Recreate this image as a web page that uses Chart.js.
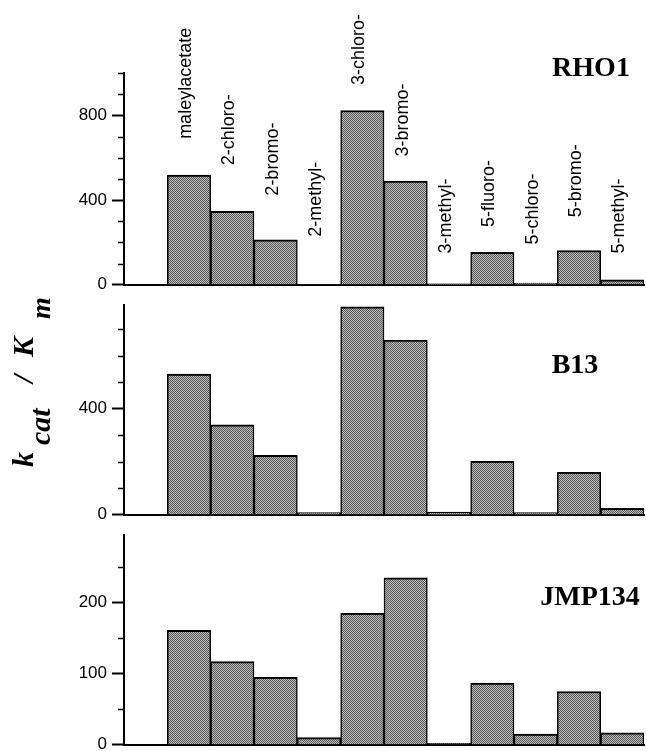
<!DOCTYPE html>
<html><head><meta charset="utf-8">
<script src="https://cdn.jsdelivr.net/npm/chart.js@4.4.0/dist/chart.umd.min.js"></script>
<style>
html,body{margin:0;padding:0;background:#fff;overflow:hidden;width:646px;height:751px;}
#wrap{position:relative;width:646px;height:751px;overflow:hidden;}
canvas{position:absolute;left:0;}
</style></head><body>
<div id="wrap">
<canvas id="c1" width="646" height="300" style="top:0px"></canvas>
<canvas id="c2" width="646" height="240" style="top:290px"></canvas>
<canvas id="c3" width="646" height="240" style="top:520px"></canvas>
</div>
<script>
// ---- data ----
const categories = ['', 'maleylacetate', '2-chloro-', '2-bromo-', '2-methyl-', '3-chloro-', '3-bromo-', '3-methyl-', '5-fluoro-', '5-chloro-', '5-bromo-', '5-methyl-'];
const rho1   = [null, 518, 347, 212, 2, 823, 490, 5, 153, 8, 162, 24];
const b13    = [null, 530, 339, 224, 8, 784, 659, 10, 202, 8, 160, 24];
const jmp134 = [null, 161, 117, 95, 10, 185, 235, 2, 87, 15, 75, 17];
const panelNames = ['RHO1', 'B13', 'JMP134'];
const yMax = [1000, 790, 295];
const majorTicksRho1 = [0, 400, 800];
const majorTicksB13 = [0, 400];
const majorTicksJmp134 = [0, 100, 200];
const minorStep = [100, 100, 50];
// heights (top-panel units) where the rotated category labels start
const labelAnchors = [null, 689, 564, 421, 227, 943, 606, 148, 273, 190, 319, 148];

const majorTicks = [majorTicksRho1, majorTicksB13, majorTicksJmp134];

// ---- styles ----
function makePattern() {
  const p = document.createElement('canvas');
  p.width = 2; p.height = 2;
  const g = p.getContext('2d');
  g.fillStyle = '#bdbdbd'; g.fillRect(0, 0, 2, 2);
  g.fillStyle = '#585858'; g.fillRect(0, 0, 1, 1); g.fillRect(1, 1, 1, 1);
  return g.createPattern(p, 'repeat');
}
const barFill = makePattern();

const minorTicksPlugin = {
  id: 'minorTicks',
  afterDraw(chart, args, opts) {
    const y = chart.scales.y, ctx = chart.ctx, x0 = chart.chartArea.left;
    ctx.save();
    ctx.strokeStyle = '#000'; ctx.lineWidth = 1.5;
    for (let v = opts.step; v <= y.max + 1e-9; v += opts.step) {
      if (opts.major.indexOf(v) >= 0) continue;
      const py = Math.round(y.getPixelForValue(v)) + 0.5;
      ctx.beginPath(); ctx.moveTo(x0 - 6, py); ctx.lineTo(x0, py); ctx.stroke();
    }
    ctx.restore();
  }
};

const panelTitlePlugin = {
  id: 'panelTitle',
  afterDraw(chart, args, opts) {
    const ctx = chart.ctx;
    ctx.save();
    ctx.font = 'bold 28px "Liberation Serif", "Times New Roman", serif';
    ctx.fillStyle = '#000';
    ctx.textAlign = 'center'; ctx.textBaseline = 'alphabetic';
    ctx.fillText(opts.text, opts.cx, opts.baseline);
    ctx.restore();
  }
};

const catLabelPlugin = {
  id: 'catLabels',
  afterDraw(chart, args, opts) {
    if (!opts.show) return;
    const xs = chart.scales.x, ys = chart.scales.y, ctx = chart.ctx;
    ctx.save();
    ctx.font = '18px "Liberation Sans", Arial, sans-serif';
    ctx.fillStyle = '#000';
    categories.forEach((c, i) => {
      if (!c) return;
      const px = xs.getPixelForValue(i) - 3;
      const py = ys.getPixelForValue(labelAnchors[i]);
      ctx.save();
      ctx.translate(px, py);
      ctx.rotate(-Math.PI / 2);
      ctx.textAlign = 'left'; ctx.textBaseline = 'middle';
      ctx.fillText(c, 0, 0);
      ctx.restore();
    });
    ctx.restore();
  }
};

const yTitlePlugin = {
  id: 'yTitle',
  afterDraw(chart, args, opts) {
    if (!opts.show) return;
    const ctx = chart.ctx;
    ctx.save();
    ctx.translate(33, 177);
    ctx.rotate(-Math.PI / 2);
    ctx.fillStyle = '#000';
    ctx.textAlign = 'left'; ctx.textBaseline = 'alphabetic';
    const pieces = [
      {t: 'k', size: 30, sub: false, at: 0},
      {t: 'cat', size: 30, sub: true, at: 22},
      {t: '/', size: 30, sub: false, at: 84},
      {t: 'K', size: 30, sub: false, at: 110},
      {t: 'm', size: 28, sub: true, at: 148}
    ];
    pieces.forEach(p => {
      ctx.font = 'italic bold ' + p.size + 'px "Liberation Serif", "Times New Roman", serif';
      ctx.fillText(p.t, p.at, p.sub ? 17 : 0);
    });
    ctx.restore();
  }
};

function makeChart(id, values, i, padTop, padBottom, titlePos, extra) {
  return new Chart(document.getElementById(id), {
    type: 'bar',
    data: {
      labels: categories,
      datasets: [{
        data: values,
        backgroundColor: barFill,
        borderColor: '#000',
        borderWidth: {top: 2, left: 1.5, right: 1.5, bottom: 0},
        borderSkipped: 'start',
        barPercentage: 1,
        categoryPercentage: 1
      }]
    },
    options: {
      responsive: false,
      animation: false,
      devicePixelRatio: 1,
      layout: {padding: {top: padTop, bottom: padBottom, left: 0, right: 2}},
      plugins: {
        legend: {display: false},
        tooltip: {enabled: false},
        minorTicks: {step: minorStep[i], major: majorTicks[i]},
        panelTitle: {text: panelNames[i], cx: titlePos[0], baseline: titlePos[1]},
        catLabels: {show: !!extra.labels},
        yTitle: {show: !!extra.ytitle}
      },
      scales: {
        x: {
          type: 'category',
          offset: true,
          ticks: {display: false},
          grid: {display: false, drawTicks: false},
          border: {display: true, color: '#000', width: 2}
        },
        y: {
          min: 0, max: yMax[i],
          afterBuildTicks: s => { s.ticks = majorTicks[i].map(v => ({value: v})); },
          afterFit: s => { s.width = 124; },
          ticks: {autoSkip: false, color: '#000', padding: 5,
                  font: {family: '"Liberation Sans", Arial, sans-serif', size: 17}},
          grid: {display: true, drawOnChartArea: false, drawTicks: true, tickLength: 12,
                 tickColor: '#000', tickWidth: 2, color: '#000'},
          border: {display: true, color: '#000', width: 2}
        }
      }
    },
    plugins: [minorTicksPlugin, panelTitlePlugin, catLabelPlugin, yTitlePlugin]
  });
}

makeChart('c1', rho1, 0, 73, 11, [591, 76], {labels: true});
makeChart('c2', b13, 1, 13, 11, [575, 83], {ytitle: true});
makeChart('c3', jmp134, 2, 13, 11, [590, 85], {});
</script>
</body></html>
